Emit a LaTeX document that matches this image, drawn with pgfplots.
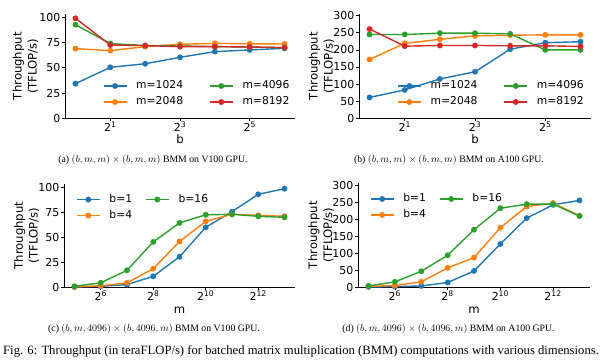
\documentclass[border=0pt]{standalone}
\usepackage[no-math]{fontspec}
\setmainfont{DejaVu Sans}
\newfontfamily\capfont{Liberation Serif}
\usepackage{pgfplots}
\pgfplotsset{compat=1.18}
\definecolor{tabblue}{HTML}{1F77B4}
\definecolor{taborange}{HTML}{FF7F0E}
\definecolor{tabgreen}{HTML}{2CA02C}
\definecolor{tabred}{HTML}{D62728}
\pgfplotsset{
  bmm/.style={
    scale only axis,
    axis x line*=bottom, axis y line*=left,
    axis line style={line width=0.7bp, black},
    tick align=outside, major tick length=3bp,
    tick style={line width=0.7bp, black},
    minor tick num=0,
    ymin=0,
    /pgf/number format/assume math mode=true,
    ticklabel style={font=\fontsize{11}{13}\selectfont},
    yticklabel style={inner sep=1.5bp},
    xticklabel style={anchor=north, inner sep=0bp},
    label style={font=\fontsize{11.7}{15}\selectfont},
    ylabel={Throughput\\(TFLOP/s)},
    ylabel style={align=center, anchor=center},
    xlabel style={anchor=base, inner sep=0bp},
    every axis plot/.append style={line width=1.4bp, mark=*, mark size=2.2bp, mark options={solid}},
    legend image code/.code={\draw[mark repeat=2,mark phase=2,##1] plot coordinates {(0bp,0bp) (11.5bp,0bp) (23bp,0bp)};},
    legend columns=2, transpose legend,
    legend cell align=left,
    legend style={draw=none, fill=none, font=\fontsize{10.8}{12}\selectfont,
      anchor=center, row sep=6bp,
      nodes={inner sep=0bp, text height=8bp, text depth=2bp},
      /tikz/every odd column/.append style={column sep=9bp}},
  },
  bmmtop/.style={bmm, xmin=0.812, xmax=78.8, xtick={2,8,32},
    xticklabels={2\textsuperscript{1},2\textsuperscript{3},2\textsuperscript{5}},
    xlabel={b}, width=230bp, height=104.3bp,
    xlabel style={at={(axis description cs:0.5,-0.246)}},
    legend style={/tikz/every even column/.append style={column sep=26bp}}},
  bmmbot/.style={bmm, xmin=24.25, xmax=10809, xtick={64,256,1024,4096},
    xticklabels={2\textsuperscript{6},2\textsuperscript{8},2\textsuperscript{10},2\textsuperscript{12}},
    xlabel={m}, width=231bp, height=103.3bp,
    xlabel style={at={(axis description cs:0.5,-0.252)}},
    legend style={/tikz/every even column/.append style={column sep=13bp}}},
}
\begin{document}
\begin{tikzpicture}[x=1bp,y=1bp]
\useasboundingbox (0,0) rectangle (610,363);
% (a)
\begin{axis}[xmode=log, log basis x=2, bmmtop, at={(65bp,244.7bp)}, anchor=south west,
  ymax=103.3, ytick={0,25,50,75,100},
  ylabel style={at={(axis description cs:-0.172,0.5)}},
  legend style={at={(axis description cs:0.57,0.233)}}]
\addplot[color=tabblue] coordinates {(1,34.3) (2,50.5) (4,54) (8,60.4) (16,66) (32,67.7) (64,69.3)};
\addlegendentry{m=1024}
\addplot[color=taborange] coordinates {(1,69) (2,67) (4,71) (8,73.3) (16,74.2) (32,73.8) (64,73.6)};
\addlegendentry{m=2048}
\addplot[color=tabgreen] coordinates {(1,92.7) (2,74) (4,72) (8,71.6) (16,71) (32,70.6) (64,70)};
\addlegendentry{m=4096}
\addplot[color=tabred] coordinates {(1,99) (2,72.6) (4,72) (8,71) (16,71) (32,70.6) (64,70)};
\addlegendentry{m=8192}
\end{axis}
% (b)
\begin{axis}[xmode=log, log basis x=2, bmmtop, at={(359bp,244.7bp)}, anchor=south west, width=232bp,
  ymax=305, ytick={0,50,100,150,200,250,300},
  ylabel style={at={(axis description cs:-0.162,0.5)}},
  legend style={at={(axis description cs:0.567,0.233)}}]
\addplot[color=tabblue] coordinates {(1,61) (2,83) (4,115) (8,136) (16,202) (32,221) (64,224)};
\addlegendentry{m=1024}
\addplot[color=taborange] coordinates {(1,172) (2,219) (4,231) (8,241) (16,243) (32,244) (64,244)};
\addlegendentry{m=2048}
\addplot[color=tabgreen] coordinates {(1,245) (2,245) (4,249) (8,249) (16,247) (32,200) (64,200)};
\addlegendentry{m=4096}
\addplot[color=tabred] coordinates {(1,261) (2,211) (4,213) (8,213) (16,212) (32,212) (64,210)};
\addlegendentry{m=8192}
\end{axis}
% (c)
\begin{axis}[xmode=log, log basis x=2, bmmbot, at={(64bp,75.7bp)}, anchor=south west,
  ymax=103.3, ytick={0,25,50,75,100},
  ylabel style={at={(axis description cs:-0.162,0.5)}},
  legend style={at={(axis description cs:0.338,0.772)}}]
\addplot[color=tabblue] coordinates {(32,0.3) (64,1) (128,2.7) (256,11) (512,30.5) (1024,60) (2048,75.6) (4096,93) (8192,98.6)};
\addlegendentry{b=1}
\addplot[color=taborange] coordinates {(32,0.5) (64,1.5) (128,4.5) (256,18.6) (512,45.8) (1024,66) (2048,73) (4096,72) (8192,71)};
\addlegendentry{b=4}
\addplot[color=tabgreen] coordinates {(32,1) (64,4.5) (128,17) (256,45.4) (512,64.4) (1024,72.5) (2048,73) (4096,71) (8192,70)};
\addlegendentry{b=16}
\end{axis}
% (d)
\begin{axis}[xmode=log, log basis x=2, bmmbot, at={(358bp,75.7bp)}, anchor=south west, width=232bp, height=104.3bp,
  ymax=306, ytick={0,50,100,150,200,250,300},
  ylabel style={at={(axis description cs:-0.16,0.5)}},
  xlabel style={at={(axis description cs:0.5,-0.25)}},
  legend style={at={(axis description cs:0.336,0.77)}}]
\addplot[color=tabblue] coordinates {(32,1) (64,2) (128,4) (256,14) (512,48) (1024,127) (2048,203) (4096,242) (8192,255)};
\addlegendentry{b=1}
\addplot[color=taborange] coordinates {(32,3) (64,5) (128,16) (256,57) (512,87) (1024,175) (2048,237) (4096,247) (8192,210)};
\addlegendentry{b=4}
\addplot[color=tabgreen] coordinates {(32,4) (64,16) (128,47) (256,94) (512,169) (1024,232) (2048,244) (4096,244) (8192,209)};
\addlegendentry{b=16}
\end{axis}
% captions
\node[anchor=base, inner sep=0pt, font=\capfont\fontsize{9.8}{11}\selectfont] at (153,201) {(a) $(b,m,m)\times(b,m,m)$ BMM on V100 GPU.};
\node[anchor=base, inner sep=0pt, font=\capfont\fontsize{9.8}{11}\selectfont] at (449,201) {(b) $(b,m,m)\times(b,m,m)$ BMM on A100 GPU.};
\node[anchor=base, inner sep=0pt, font=\capfont\fontsize{9.8}{11}\selectfont] at (154,31.5) {(c) $(b,m,4096)\times(b,4096,m)$ BMM on V100 GPU.};
\node[anchor=base, inner sep=0pt, font=\capfont\fontsize{9.8}{11}\selectfont] at (448.5,31.5) {(d) $(b,m,4096)\times(b,4096,m)$ BMM on A100 GPU.};
\node[anchor=base west, inner sep=0pt, font=\capfont\fontsize{12.7}{14}\selectfont] at (3,9) {Fig. 6: Throughput (in teraFLOP/s) for batched matrix multiplication (BMM) computations with various dimensions.};
\end{tikzpicture}
\end{document}
